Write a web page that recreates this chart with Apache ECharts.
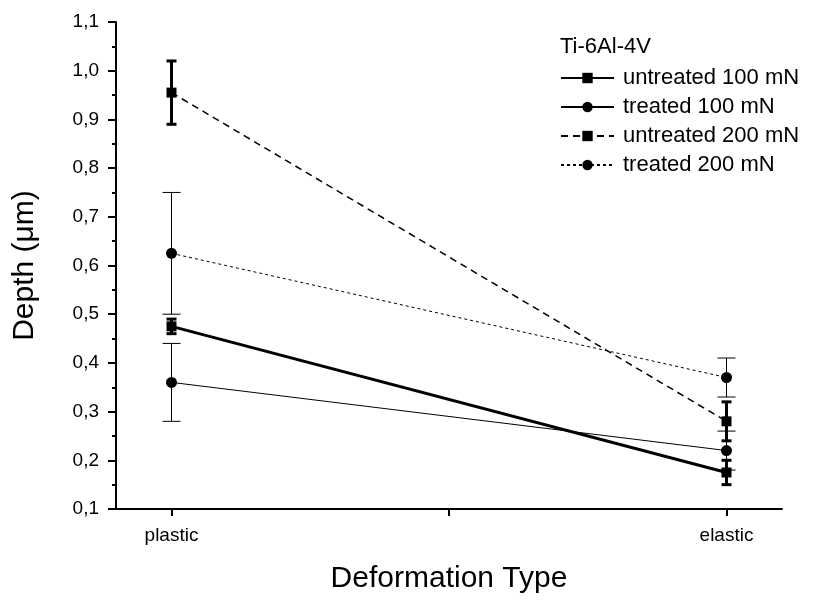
<!DOCTYPE html>
<html>
<head>
<meta charset="utf-8">
<script src="https://cdn.jsdelivr.net/npm/echarts@6/dist/echarts.min.js"></script>
<style>
  html, body { margin: 0; padding: 0; background: #fff; }
  #chart { width: 819px; height: 601px; }
</style>
</head>
<body>
<div id="chart"></div>
<script>
// Deformation categories, placed at x = 0 and x = 1 on a value axis
const categories = ['plastic', 'elastic'];
const categoryPos = [0, 1];

// Mean depth (µm) for each condition, in category order
const untreated100 = [0.475, 0.175];
const treated100 = [0.36, 0.22];
const untreated200 = [0.955, 0.28];
const treated200 = [0.625, 0.37];

// Error (± µm) for each condition
const untreated100Err = [0.015, 0.025];
const treated100Err = [0.08, 0.04];
const untreated200Err = [0.065, 0.04];
const treated200Err = [0.125, 0.04];

const seriesNames = ['untreated 100 mN', 'treated 100 mN', 'untreated 200 mN', 'treated 200 mN'];
const legendTitle = 'Ti-6Al-4V';
const xTitle = 'Deformation Type';
const yTitle = 'Depth (\u03BCm)';

const FONT = '"Liberation Sans", Arial, Helvetica, sans-serif';

function pairs(vals) {
  return vals.map((v, i) => [categoryPos[i], v]);
}
function errPairs(vals, errs) {
  return vals.map((v, i) => [categoryPos[i], v, errs[i]]);
}

function errorBarSeries(vals, errs, lineWidth, capWidth) {
  return {
    type: 'custom',
    silent: true,
    z: 1,
    encode: { x: 0, y: 1 },
    data: errPairs(vals, errs),
    renderItem: function (params, api) {
      const x = api.value(0), y = api.value(1), e = api.value(2);
      const top = api.coord([x, y + e]);
      const bot = api.coord([x, y - e]);
      const hw = capWidth / 2;
      const st = { stroke: '#000', lineWidth: lineWidth };
      return {
        type: 'group',
        children: [
          { type: 'line', shape: { x1: top[0], y1: top[1], x2: bot[0], y2: bot[1] }, style: st },
          { type: 'line', shape: { x1: top[0] - hw, y1: top[1], x2: top[0] + hw, y2: top[1] }, style: st },
          { type: 'line', shape: { x1: bot[0] - hw, y1: bot[1], x2: bot[0] + hw, y2: bot[1] }, style: st }
        ]
      };
    }
  };
}

function lineSeries(name, vals, symbol, size, lineStyle) {
  return {
    name: name,
    type: 'line',
    z: 3,
    data: pairs(vals),
    symbol: symbol,
    symbolSize: size,
    itemStyle: { color: '#000' },
    lineStyle: Object.assign({ color: '#000' }, lineStyle),
    emphasis: { disabled: true },
    animation: false
  };
}

const chart = echarts.init(document.getElementById('chart'), null, { renderer: 'canvas' });

chart.setOption({
  animation: false,
  backgroundColor: '#fff',
  textStyle: { fontFamily: FONT, color: '#000' },
  grid: { left: 116, right: 37, top: 22, bottom: 92, containLabel: false },
  title: {
    text: legendTitle,
    left: 560,
    top: 36,
    padding: 0,
    textStyle: { fontFamily: FONT, fontSize: 22, fontWeight: 'normal', color: '#000' }
  },
  legend: {
    data: seriesNames,
    orient: 'vertical',
    left: 560,
    top: 67,
    padding: 0,
    itemWidth: 53,
    itemHeight: 13,
    itemGap: 7,
    selectedMode: false,
    textStyle: { fontFamily: FONT, fontSize: 22, color: '#000', padding: [0, 0, 0, 4] }
  },
  xAxis: {
    type: 'value',
    min: -0.1,
    max: 1.1,
    name: xTitle,
    nameLocation: 'middle',
    nameGap: 55,
    nameTextStyle: { fontFamily: FONT, fontSize: 30, color: '#000' },
    axisLine: { show: true, onZero: false, lineStyle: { color: '#000', width: 2 } },
    axisTick: { show: true, inside: false, length: 7, customValues: [0, 0.5, 1], lineStyle: { color: '#000', width: 2 } },
    axisLabel: {
      customValues: categoryPos,
      margin: 17,
      fontFamily: FONT,
      fontSize: 19,
      color: '#000',
      formatter: function (v) {
        const i = categoryPos.indexOf(Math.round(v * 1000) / 1000);
        return i >= 0 ? categories[i] : '';
      }
    },
    splitLine: { show: false }
  },
  yAxis: {
    type: 'value',
    min: 0.1,
    max: 1.1,
    interval: 0.1,
    name: yTitle,
    nameLocation: 'middle',
    nameGap: 76,
    nameTextStyle: { fontFamily: FONT, fontSize: 30, color: '#000' },
    axisLine: { show: true, onZero: false, lineStyle: { color: '#000', width: 2 } },
    axisTick: { show: true, inside: false, length: 8, lineStyle: { color: '#000', width: 2 } },
    minorTick: { show: true, splitNumber: 2, length: 4, lineStyle: { color: '#000', width: 2 } },
    axisLabel: {
      margin: 17,
      fontFamily: FONT,
      fontSize: 19,
      color: '#000',
      formatter: function (v) { return v.toFixed(1).replace('.', ','); }
    },
    splitLine: { show: false },
    minorSplitLine: { show: false }
  },
  series: [
    errorBarSeries(untreated100, untreated100Err, 3, 10),
    errorBarSeries(treated100, treated100Err, 1, 18),
    errorBarSeries(untreated200, untreated200Err, 3, 10),
    errorBarSeries(treated200, treated200Err, 1, 18),
    lineSeries(seriesNames[0], untreated100, 'rect', 10, { width: 3, type: 'solid' }),
    lineSeries(seriesNames[1], treated100, 'circle', 11, { width: 1, type: 'solid' }),
    lineSeries(seriesNames[2], untreated200, 'rect', 10, { width: 1.5, type: [7, 5] }),
    lineSeries(seriesNames[3], treated200, 'circle', 11, { width: 1, type: [3, 3] })
  ]
});
</script>
</body>
</html>
